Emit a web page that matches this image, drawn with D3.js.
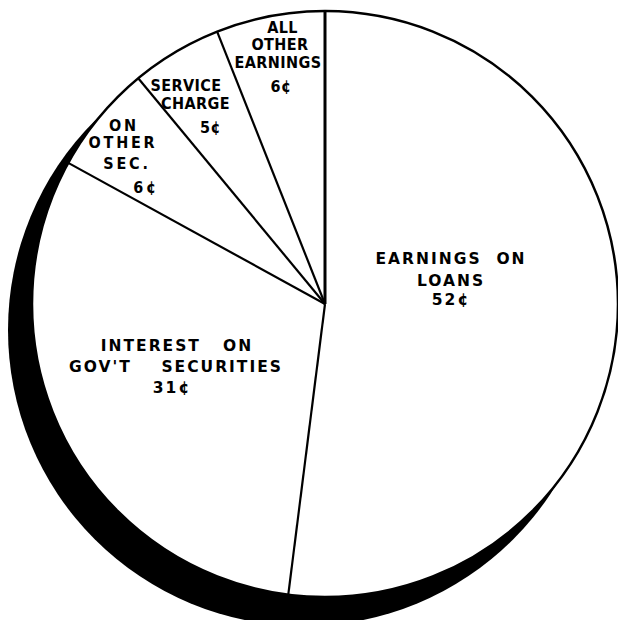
<!DOCTYPE html>
<html>
<head>
<meta charset="utf-8">
<script src="https://cdn.jsdelivr.net/npm/d3@7"></script>
<style>
  body { margin: 0; background: #fff; }
  text { font-weight: bold; fill: #000; white-space: pre; }
</style>
</head>
<body>
<svg class="plot" width="618" height="620"></svg>
<script>
  var width = 618
  var height = 620

  // where each bank earnings dollar comes from (cents)
  const categories = ["Earnings on loans", "Interest on gov't securities", "On other sec.", "Service charge", "All other earnings"]
  const cents = [52, 31, 6, 5, 6]
  const labelLines = [
    ["EARNINGS  ON", "LOANS"],
    ["INTEREST   ON", "GOV'T    SECURITIES"],
    ["ON", "OTHER", "SEC."],
    ["SERVICE", "CHARGE"],
    ["ALL", "OTHER", "EARNINGS"]
  ]

  // label layout: line anchors as offsets from the pie centre (kept apart from the data)
  const labelLayout = [
    { big: true, at: [[126, -40], [126, -18], [126, 1]] },
    { big: true, at: [[-148, 46.5], [-149, 67.5], [-153, 89]] },
    { big: false, ls: 2.8, at: [[-201, -173.5], [-202, -156], [-198, -135], [-179, -111.5]] },
    { big: false, ls: 0.4, at: [[-139, -213.5], [-129.5, -195], [-114.5, -171.5]] },
    { big: false, ls: 0.4, at: [[-42.5, -271.5], [-45, -254], [-47, -236.5], [-44, -212.5]] }
  ]

  const cx = 325, cy = 304, r = 293
  const svg = d3.select("svg.plot")
  const g = svg.append("g").attr("transform", "translate(" + cx + "," + cy + ")")

  // shadow
  g.append("circle")
    .attr("cx", -21)
    .attr("cy", 26)
    .attr("r", r + 3)
    .attr("fill", "#000")

  const pie = d3.pie().sort(null).value(d => d)
  const arcs = pie(cents)
  const arc = d3.arc().innerRadius(0).outerRadius(r)

  g.selectAll("path.slice")
    .data(arcs)
    .enter()
    .append("path")
    .attr("class", "slice")
    .attr("d", arc)
    .attr("fill", "#fff")
    .attr("stroke", "none")

  // radial dividers
  g.selectAll("line.div")
    .data(arcs)
    .enter()
    .append("line")
    .attr("class", "div")
    .attr("x1", 0)
    .attr("y1", 0)
    .attr("x2", d => r * Math.sin(d.startAngle))
    .attr("y2", d => -r * Math.cos(d.startAngle))
    .attr("stroke", "#000")
    .attr("stroke-width", (d, i) => i == 0 ? 3 : 2.2)

  g.append("circle")
    .attr("r", r)
    .attr("fill", "none")
    .attr("stroke", "#000")
    .attr("stroke-width", 2.5)

  arcs.forEach((d, i) => {
    var lay = labelLayout[i]
    var lines = labelLines[i].concat([cents[i] + "¢"])
    lines.forEach((s, j) => {
      g.append("text")
        .attr("x", lay.at[j][0])
        .attr("y", lay.at[j][1])
        .attr("text-anchor", "middle")
        .style("font-family", lay.big ? "'DejaVu Sans', sans-serif" : "'DejaVu Sans Condensed', 'DejaVu Sans', sans-serif")
        .style("font-size", lay.big ? "15.5px" : "16px")
        .style("letter-spacing", (lay.big ? 2 : lay.ls) + "px")
        .text(s)
    })
  })
</script>
</body>
</html>
